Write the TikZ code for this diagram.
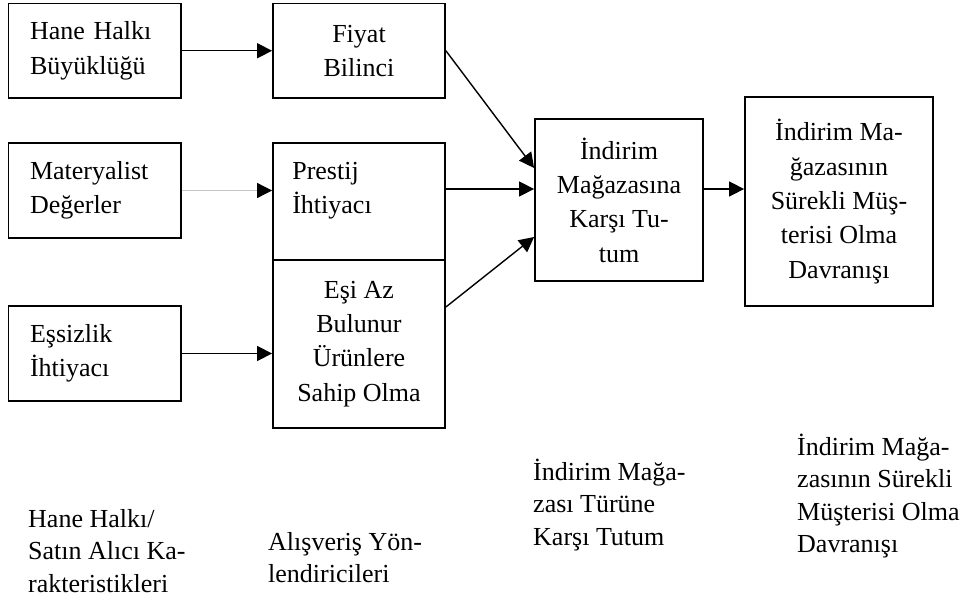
\documentclass[tikz,border=0pt]{standalone}
\usepackage{fontspec}
\setmainfont{Liberation Serif}
\usetikzlibrary{arrows.meta}
\begin{document}
\begin{tikzpicture}[x=1pt,y=-1pt]
\tikzset{
  box/.style={draw,line width=1.8pt,inner sep=0pt},
  txt/.style={font=\fontsize{26}{34.3}\selectfont},
  captxt/.style={font=\fontsize{26}{32.5}\selectfont,align=left,anchor=north west,inner sep=0pt},
  arr/.style={line width=1.4pt,-{Triangle[length=15pt,width=15pt]}},
  garr/.style={draw=gray!45,line width=.8pt,-{Triangle[length=15pt,width=15pt,color=black]}},
}
\useasboundingbox (0,0) rectangle (966,605);
% left column
\foreach \n/\y/\h/\lbl in {
    hane/50.75/94.5/{Hane Halkı\\Büyüklüğü},
    mat/190.5/95/{Materyalist\\Değerler},
    essiz/353.5/95/{Eşsizlik\\İhtiyacı}
}{
    \node[box,txt,align=left,minimum width=172.5pt,minimum height=\h pt,text width=129.5pt] (\n) at (94.75,\y) {\lbl};
}
% middle column
\node[box,txt,align=center,minimum width=172pt,minimum height=94.5pt] (fiyat) at (359,50.75) {Fiyat\\Bilinci};
\node[box,minimum width=172pt,minimum height=117pt] (pres) at (359,201.5) {};
\node[txt,align=left,anchor=north west,inner sep=0pt] (presT) at ([xshift=20pt,yshift=-13pt]pres.north west) {\strut Prestij\\İhtiyacı};
\node[box,txt,align=center,minimum width=172pt,minimum height=168pt] (esi) at (359,344) {Eşi Az\\Bulunur\\Ürünlere\\Sahip Olma};
% right
\node[box,txt,align=center,minimum width=168pt,minimum height=162pt] (ind) at (619,200) {İndirim\\Mağazasına\\Karşı Tu-\\tum};
\node[box,txt,align=center,minimum width=188pt,minimum height=209pt] (sur) at (839,201.5) {İndirim Ma-\\ğazasının\\Sürekli Müş-\\terisi Olma\\Davranışı};
% bottom captions
\node[captxt] (capA) at (28,504.25) {\strut Hane Halkı/\\Satın Alıcı Ka-\\rakteristikleri};
\node[captxt] (capB) at (268,527.25) {\strut Alışveriş Yön-\\lendiricileri};
\node[captxt] (capC) at (533,457.25) {\strut İndirim Mağa-\\zası Türüne\\Karşı Tutum};
\node[captxt] (capD) at (797,432.25) {\strut İndirim Mağa-\\zasının Sürekli\\Müşterisi Olma\\Davranışı};
% arrows
\coordinate (in1) at ([yshift=32pt]ind.west);
\coordinate (in2) at ([yshift=11pt]ind.west);
\coordinate (in3) at ([yshift=-37pt]ind.west);
\draw[arr] (hane) -- (fiyat);
\draw[garr] (mat.east) -- (mat.east -| pres.west);
\draw[arr] (essiz) -- (essiz -| esi.west);
\draw[arr] (fiyat.east) -- (in1);
\draw[arr] (pres.east |- in2) -- (in2);
\draw[arr] ([yshift=37pt]esi.east) -- (in3);
\draw[arr] ([yshift=11pt]ind.east) -- ([yshift=11pt]ind.east -| sur.west);
\end{tikzpicture}
\end{document}
